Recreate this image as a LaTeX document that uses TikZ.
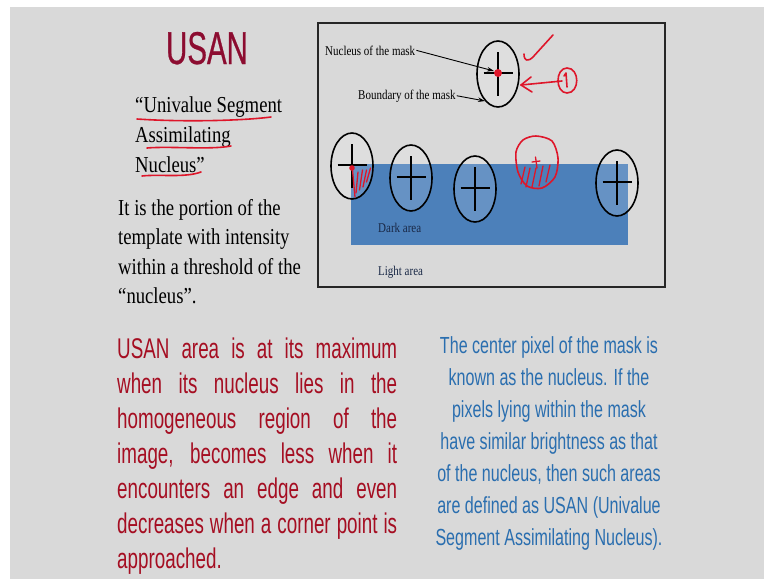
\documentclass[tikz,border=0pt]{standalone}
\usepackage{fontspec}
\setmainfont{Liberation Serif}[FakeStretch=0.82]
\newfontfamily\narrowsans{Liberation Sans}[FakeStretch=0.66]
\newfontfamily\bluesans{Liberation Sans}[FakeStretch=0.69]
\newfontfamily\titlesans{Liberation Sans}[FakeStretch=0.64,FakeBold=0.6]
\usetikzlibrary{shapes.geometric,arrows.meta}
\definecolor{bg}{RGB}{217,217,217}
\definecolor{usanred}{RGB}{140,12,48}
\definecolor{txtred}{RGB}{165,14,34}
\definecolor{txtblue}{RGB}{42,110,175}
\definecolor{darkblue}{RGB}{76,128,186}
\definecolor{pen}{RGB}{222,22,42}
\definecolor{navy}{RGB}{25,40,70}
\begin{document}
\begin{tikzpicture}[x=1pt,y=-1pt,
  mask/.style={ellipse,draw=black,line width=1.6pt,fill=white,fill opacity=0.15,minimum width=42pt,minimum height=66pt,inner sep=0},
  crossline/.style={line width=1.6pt},
  penline/.style={draw=pen,line width=1.6pt,line cap=round,line join=round},
  lab/.style={font=\fontsize{13.4}{15}\selectfont,inner sep=0,anchor=base west,text=black},
  arealab/.style={font=\fontsize{13.4}{15}\selectfont,inner sep=0,anchor=base west,text=navy},
  serifline/.style={font=\fontsize{22.8}{27}\selectfont,inner sep=0,anchor=base west,text=black},
  redline/.style={font=\narrowsans\fontsize{28.5}{34}\selectfont,inner sep=0,anchor=base west,text=txtred},
  blueline/.style={font=\bluesans\fontsize{23.3}{28}\selectfont,inner sep=0,anchor=base,text=txtblue},
  arr/.style={-{Stealth[length=7pt,width=4.5pt]},line width=0.9pt}
]
\useasboundingbox (0,0) rectangle (764,579);
\fill[white] (0,0) rectangle (764,579);
\fill[bg] (10,7) rectangle (764,579);

% title
\node[font=\titlesans\fontsize{46}{50}\selectfont,text=usanred,inner sep=0,anchor=base] (title) at (207,64) {USAN};

% serif text
\node[serifline] (q1) at (135,112) {“Univalue Segment};
\node[serifline] (q2) at (135,142) {Assimilating};
\node[serifline] (q3) at (135,172) {Nucleus”};
\node[serifline] (p1) at (118,215) {It is the portion of the};
\node[serifline] (p2) at (118,244.5) {template with intensity};
\node[serifline] (p3) at (118,274) {within a threshold of the};
\node[serifline] (p4) at (118,303.5) {“nucleus”.};

% red underlines
\draw[penline] (137,119) .. controls (180,122) and (240,121) .. (271,117);
\draw[penline] (147,148) .. controls (170,146) and (210,150) .. (231,146);
\draw[penline] (142,176) .. controls (160,174) and (185,178) .. (201,172);

% red paragraph
\foreach \t [count=\i] in {{USAN area is at its maximum},{when its nucleus lies in the},{homogeneous region of the},{image, becomes less when it},{encounters an edge and even},{decreases when a corner point is}}
  \node[redline] (r\i) at (117,{358+35*(\i-1)}) {\makebox[280pt][s]{\t}};
\node[redline] (r7) at (117,568) {approached.};

% blue paragraph
\foreach \t [count=\i] in {{The center pixel of the mask is},{known as the nucleus. If the},{pixels lying within the mask},{have similar brightness as that},{of the nucleus, then such areas},{are defined as USAN (Univalue},{Segment Assimilating Nucleus).}}
  \node[blueline] (b\i) at (549,{353+32*(\i-1)}) {\t};

% diagram frame
\draw[line width=1.5pt,black!85] (318,23) rectangle (665,287);
\fill[darkblue] (351,164) rectangle (628,245);
\node[arealab] (dark) at (378,232) {Dark area};
\node[arealab] (light) at (378,275) {Light area};

% masks
\foreach \n/\cx/\cy in {m0/498/74,m1/352/166,m2/411/178,m3/475/189,m5/617/183}{
  \node[mask] (\n) at (\cx,\cy) {};
  \draw[crossline] ({\cx-14.5},{\cy-1}) -- ({\cx+14.5},{\cy-1});
  \draw[crossline] (\cx,{\cy-22}) -- (\cx,{\cy+22});
}
\fill[pen] (498,73) circle (4pt);

% labels and arrows
\node[lab] (nlab) at (325,55) {Nucleus of the mask};
\node[lab] (blab) at (358,99) {Boundary of the mask};
\coordinate (ntip) at (494,71);
\coordinate (btip) at (485,101);
\draw[arr] ([xshift=1pt]nlab.east) -- (ntip);
\draw[arr] ([xshift=1pt]blab.east) -- (btip);

% red annotations near top mask
\draw[penline] (524,54) .. controls (524,61) and (528,62) .. (533,57) -- (553,35);
\draw[penline] (562,81) -- (521,85);
\draw[penline] (531,77) -- (521,85) -- (532,92);
\draw[penline] (567,68) .. controls (580,68) and (580,93) .. (567,93) .. controls (555,93) and (555,68) .. (567,68);
\draw[penline] (564,76) -- (566,73) -- (567,87);

% red hatch in first mask
\fill[pen] (352,168) circle (2.8pt);
\draw[penline,line width=1.3pt] (352.5,170) -- (355,197);
\draw[penline,line width=1.3pt] (358,172) -- (356,193);
\draw[penline,line width=1.3pt] (362.5,170) -- (359.5,190);
\draw[penline,line width=1.3pt] (366.5,170) -- (363,187);
\draw[penline,line width=1.3pt] (370.5,168) -- (366.5,182);

% red hand-drawn mask
\draw[penline] plot[smooth cycle] coordinates {(536,136) (552,141) (558,158) (555,177) (542,188) (527,186) (518,172) (516,152) (523,140)};
\foreach \a/\b/\c/\d in {525/167/521/184,530/168/526/187,536/168/532/187,543/166/539/186,550/165/546/182}
  \draw[penline,line width=1.3pt] (\a,\b) -- (\c,\d);
\draw[penline,line width=1.3pt] (535.5,157) -- (537,168);
\draw[penline,line width=1.3pt] (532,162) -- (540,161);
\end{tikzpicture}
\end{document}
